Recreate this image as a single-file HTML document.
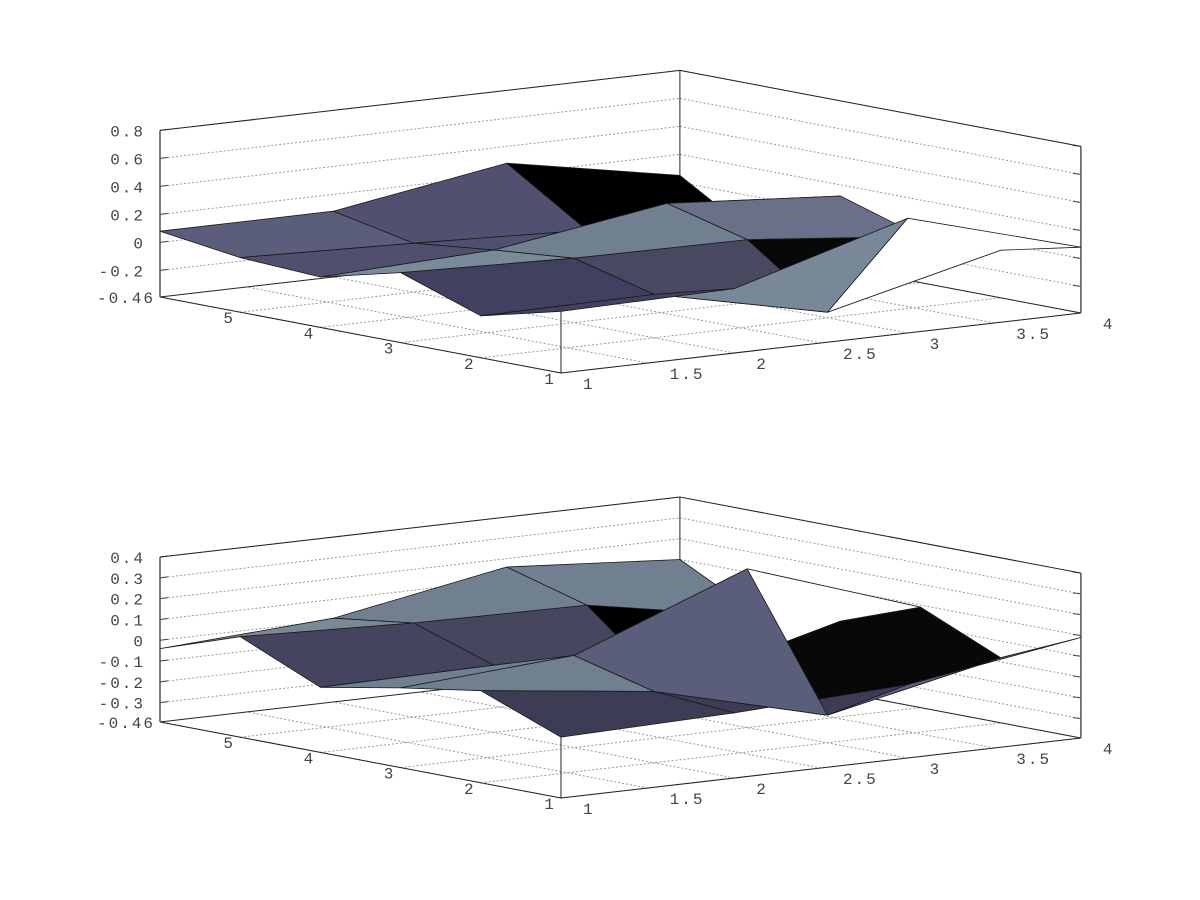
<!DOCTYPE html>
<html><head><meta charset="utf-8"><style>
html,body{margin:0;padding:0;background:#fff;}
svg{display:block;}
text{font-family:"Liberation Mono","DejaVu Sans Mono",monospace;font-size:16px;letter-spacing:2px;fill:#444;}
</style></head><body>
<svg id="chart" width="1200" height="900" viewBox="0 0 1200 900" xmlns="http://www.w3.org/2000/svg"></svg>
<script>
// Grid coordinates
const xVals = [1, 2, 3, 4];
const yVals = [1, 2, 3, 4, 5, 6];
// Top surface Z[x index][y index]
const topZ = [
  [0.05, -0.09, 0.11, -0.03, 0.00, 0.08],
  [0.07, -0.08, 0.07, 0.02, -0.04, 0.08],
  [0.43, -0.35, 0.06, 0.21, -0.09, 0.28],
  [0.08, -0.05, -0.06, 0.12, -0.30, 0.05]
];
// Bottom surface Z
const botZ = [
  [-0.10, 0.05, -0.01, -0.08, 0.09, -0.04],
  [-0.08, -0.05, 0.05, -0.07, 0.06, 0.01],
  [-0.04, -0.26, 0.37, -0.27, 0.05, 0.16],
  [0.09, -0.08, 0.09, -0.05, -0.10, 0.10]
];
// Face shades [x face][y face]
const topShade = [
  ["#404060", "#404060", "#7a8a9a", "#50506e", "#5a5e7a"],
  ["#788898", "#484860", "#708090", "#505070", "#505070"],
  ["#ffffff", "#080808", "#6a7088", "#6a7088", "#000000"]
];
const botShade = [
  ["#3c3c55", "#708090", "#708090", "#44445e", "#7a8898"],
  ["#3c3c55", "#5a5e7a", "#46465f", "#46465f", "#708090"],
  ["#5c6080", "#080808", "#ffffff", "#000000", "#708090"]
];
const topZTicks = [0.8, 0.6, 0.4, 0.2, 0, -0.2];
const topZTickLabels = ["0.8", "0.6", "0.4", "0.2", "0", "-0.2"];
const botZTicks = [0.4, 0.3, 0.2, 0.1, 0, -0.1, -0.2, -0.3];
const botZTickLabels = ["0.4", "0.3", "0.2", "0.1", "0", "-0.1", "-0.2", "-0.3"];
const xTicks = [1, 1.5, 2, 2.5, 3, 3.5, 4];
const xTickLabels = ["1", "1.5", "2", "2.5", "3", "3.5", "4"];
const yTicks = [1, 2, 3, 4, 5];
const yTickLabels = ["1", "2", "3", "4", "5"];

const NS = "http://www.w3.org/2000/svg";
const svg = document.getElementById("chart");
function mk(tag, attrs, parent) {
  const e = document.createElementNS(NS, tag);
  for (const k in attrs) e.setAttribute(k, attrs[k]);
  (parent || svg).appendChild(e);
  return e;
}

function drawPlot(name, base, zMin, zMax, kz, Z, shade, zt, ztl, before) {
  const g = mk("g", {});
  
  
  const sx = (x, y) => 561 + 173.3 * (x - 1) - 80.2 * (y - 1);
  const fy = (x, y) => base - 20 * (x - 1) - 15.2 * (y - 1);
  const sy = (x, y, z) => fy(x, y) - kz * (z - zMin);
  const P = (x, y, z) => sx(x, y).toFixed(1) + "," + sy(x, y, z).toFixed(1);
  const line = (a, b, st, nm) => {
    const l = mk("line", {x1: a[0], y1: a[1], x2: b[0], y2: b[1], stroke: st.c || "#222", "stroke-width": st.w || 1, "stroke-dasharray": st.d || "none"}, g);
    
    
  };
  const pt = (x, y, z) => [sx(x, y), sy(x, y, z)];
  const dot = {c: "#999", w: 1, d: "2,2"};
  zt.forEach((z, i) => {
    line(pt(1, 6, z), pt(4, 6, z), dot, "left-wall-gridline");
    line(pt(4, 6, z), pt(4, 1, z), dot, "right-wall-gridline");
    line(pt(1, 6, z), [sx(1, 6) + 8, sy(1, 6, z) - 1], {c: "#444"}, "z-tick");
    line(pt(4, 1, z), [sx(4, 1) - 8, sy(4, 1, z) - 1], {c: "#444"}, "z-tick");
    const t = mk("text", {x: 145, y: sy(1, 6, z) + 6, "text-anchor": "end"}, g);
    t.textContent = ztl[i];
    
    
  });
  const fl = mk("text", {x: 155, y: sy(1, 6, zMin) + 6, "text-anchor": "end"}, g);
  fl.textContent = "-0.46";
  
  
  xTicks.forEach((x, i) => {
    line(pt(x, 1, zMin), pt(x, 6, zMin), dot, "floor-gridline-x");
    const t = mk("text", {x: sx(x, 1) + 22, y: fy(x, 1) + 16, "text-anchor": "start"}, g);
    t.textContent = xTickLabels[i];
    
    
  });
  yTicks.forEach((y, i) => {
    line(pt(1, y, zMin), pt(4, y, zMin), dot, "floor-gridline-y");
    const t = mk("text", {x: sx(1, y) - 11, y: fy(1, y) + 11, "text-anchor": "middle"}, g);
    t.textContent = yTickLabels[i];
    
    
  });
  const bx = {c: "#222", w: 1};
  line(pt(1, 1, zMin), pt(4, 1, zMin), bx, "x-axis");
  line(pt(1, 1, zMin), pt(1, 6, zMin), bx, "y-axis");
  line(pt(1, 6, zMin), pt(4, 6, zMin), bx, "floor-back-edge");
  line(pt(4, 6, zMin), pt(4, 1, zMin), bx, "floor-back-edge");
  line(pt(1, 6, zMin), pt(1, 6, zMax), {c: "#555", w: 1.5}, "z-axis");
  line(pt(4, 1, zMin), pt(4, 1, zMax), {c: "#555", w: 1.5}, "right-wall-edge");
  line(pt(4, 6, zMin), pt(4, 6, zMax), bx, "back-corner-edge");
  line(pt(1, 6, zMax), pt(4, 6, zMax), bx, "left-wall-top");
  line(pt(4, 6, zMax), pt(4, 1, zMax), bx, "right-wall-top");
  line(pt(1, 1, zMin), pt(1, 1, zMin + 0.45), bx, "front-corner-edge");
  let faces = [];
  for (let i = 0; i < xVals.length - 1; i++)
    for (let j = 0; j < yVals.length - 1; j++) {
      const xc = (xVals[i] + xVals[i + 1]) / 2, yc = (yVals[j] + yVals[j + 1]) / 2;
      const zc = (Z[i][j] + Z[i + 1][j] + Z[i + 1][j + 1] + Z[i][j + 1]) / 4;
      faces.push({i, j, d: 20 * xc + 15.2 * yc - 1.2 * kz * zc});
    }
  faces.sort((a, b) => b.d - a.d);
  // occlusion fixes: face a must be painted before face b
  (before || []).forEach(([a, b]) => {
    const ia = faces.findIndex(f => f.i === a[0] && f.j === a[1]);
    const ib = faces.findIndex(f => f.i === b[0] && f.j === b[1]);
    if (ia > ib) { const fa = faces.splice(ia, 1)[0]; faces.splice(ib, 0, fa); }
  });
  faces.forEach(f => {
    const {i, j} = f;
    const x0 = xVals[i], x1 = xVals[i + 1], y0 = yVals[j], y1 = yVals[j + 1];
    const pts = [P(x0, y0, Z[i][j]), P(x1, y0, Z[i + 1][j]), P(x1, y1, Z[i + 1][j + 1]), P(x0, y1, Z[i][j + 1])].join(" ");
    const p = mk("polygon", {points: pts, fill: shade[i][j], stroke: "#1a1a1a", "stroke-width": 0.8, "stroke-linejoin": "round"}, g);
    
    
  });
}
drawPlot("top-surface-plot", 373, -0.39, 0.8, 140, topZ, topShade, topZTicks, topZTickLabels, []);
drawPlot("bottom-surface-plot", 798, -0.393, 0.4, 208, botZ, botShade, botZTicks, botZTickLabels, [[[2, 1], [2, 2]], [[1, 2], [1, 1]]]);
</script>
</body></html>
